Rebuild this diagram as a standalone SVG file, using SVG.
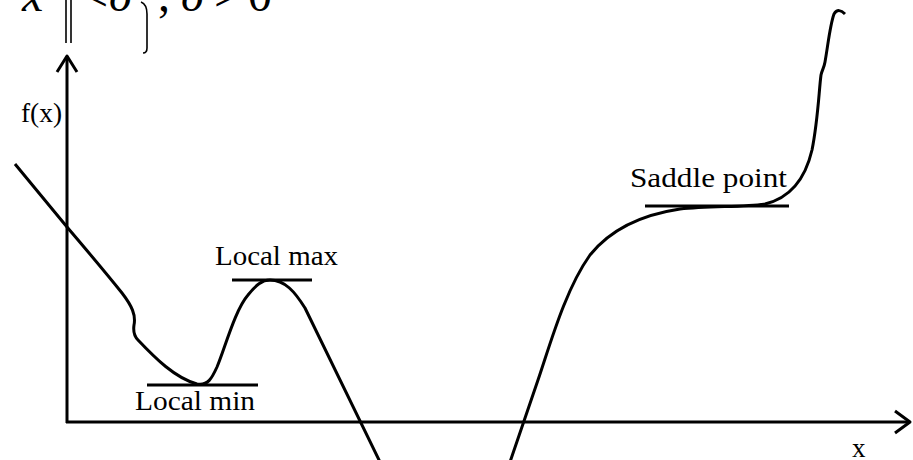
<svg xmlns="http://www.w3.org/2000/svg" width="913" height="460" viewBox="0 0 913 460">
  <style>
    .ln { fill: none; stroke: #000; stroke-width: 3; stroke-linecap: butt; stroke-linejoin: round; }
    .lbl { font-family: "Liberation Serif", "DejaVu Serif", serif; font-size: 27px; fill: #000; }
    .frm { font-family: "Liberation Serif", "DejaVu Serif", serif; font-size: 48px; font-style: italic; fill: #000; }
    .frmu { font-family: "Liberation Serif", "DejaVu Serif", serif; font-size: 48px; fill: #000; }
  </style>
  <rect width="913" height="460" fill="#fff"/>

  <g id="formula">
    <text class="frm" x="22" y="11">x</text>
    <line x1="66" y1="0" x2="66" y2="43" stroke="#000" stroke-width="1.6"/>
    <line x1="71" y1="0" x2="71" y2="43" stroke="#000" stroke-width="1.6"/>
    <text class="frmu" x="81" y="11">&lt;</text>
    <text class="frm" x="109" y="11">δ</text>
    <path d="M141,2 C146,4 147,8 147,14 L147,48 C147,52 145,53 143,53" fill="none" stroke="#000" stroke-width="1.6"/>
    <text class="frmu" x="158" y="11">,</text>
    <text class="frm" x="181" y="11">δ</text>
    <text class="frmu" x="214" y="11">&gt;</text>
    <text class="frmu" x="248" y="11">0</text>
  </g>

  <g id="connectors">
    <g id="y-axis">
      <line class="ln" x1="67" y1="56" x2="67" y2="423"/>
      <polyline class="ln" points="57,72 67,56 77,72"/>
      <text class="lbl" x="21" y="122" font-size="24" textLength="41" lengthAdjust="spacingAndGlyphs">f(x)</text>
    </g>
    <g id="x-axis">
      <line class="ln" x1="66" y1="422" x2="910" y2="422"/>
      <polyline class="ln" points="895,411 910,422 895,433"/>
      <text class="lbl" x="852" y="457" font-size="23">x</text>
    </g>
    <path id="curve-left" class="ln" d="M15,164 L67,227 C90,254 110,278 122,293 C132,306 136,315 134,325 C133,332 134,336 138,340 C155,358 175,378 197,384 C208,386 212,378 217,367 C225,348 235,310 248,295 C256,285 262,280 270,280 C285,280 295,292 305,308 L380,462"/>
    <path id="curve-right" class="ln" d="M510,462 L538,380 C550,345 565,290 590,255 C610,230 640,215 680,209 C710,206 745,207 765,204 C790,198 805,180 812,150 C818,120 819,90 821,75 C822,70 824,68 825,62 C828,45 830,25 834,14 C837,9 841,10 845,14"/>
  </g>

  <g id="local-min">
    <line class="ln" x1="147" y1="385" x2="258" y2="385"/>
    <text class="lbl" x="135" y="410" textLength="120" lengthAdjust="spacingAndGlyphs">Local min</text>
  </g>
  <g id="local-max">
    <line class="ln" x1="232" y1="280" x2="312" y2="280"/>
    <text class="lbl" x="215" y="265" textLength="123" lengthAdjust="spacingAndGlyphs">Local max</text>
  </g>
  <g id="saddle-point">
    <line class="ln" x1="645" y1="206" x2="789" y2="206"/>
    <text class="lbl" x="630" y="187" textLength="157" lengthAdjust="spacingAndGlyphs">Saddle point</text>
  </g>
</svg>
